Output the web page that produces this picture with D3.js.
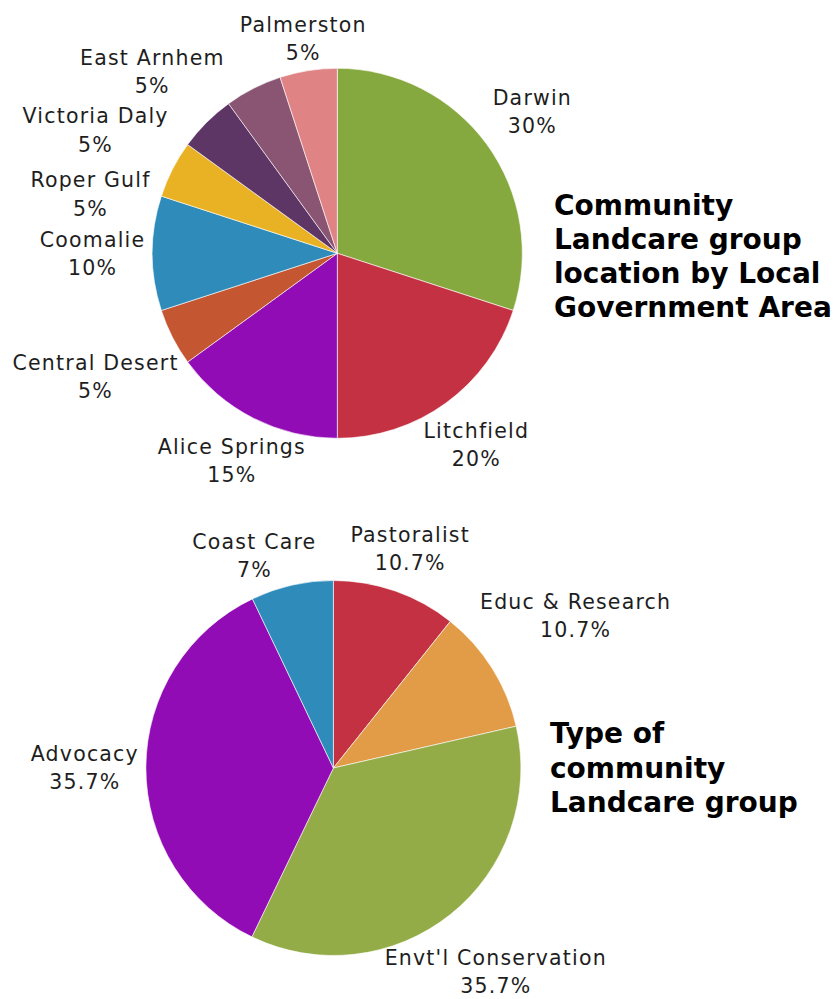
<!DOCTYPE html>
<html><head><meta charset="utf-8">
<script src="https://cdn.jsdelivr.net/npm/d3@7"></script>
<style>body{margin:0;background:#fff}svg{display:block}</style>
</head><body>
<svg id="chart" width="839" height="999"></svg>
<script>
// ---- Data ----
const lgaCategories = ["Darwin","Litchfield","Alice Springs","Central Desert","Coomalie","Roper Gulf","Victoria Daly","East Arnhem","Palmerston"];
const lgaValues = [30,20,15,5,10,5,5,5,5];
const lgaPercentLabels = ["30%","20%","15%","5%","10%","5%","5%","5%","5%"];
const lgaColors = ["#86a93f","#c43142","#920cb5","#c55632","#2e8bba","#e8b224","#5e3666","#8a5473","#e08385"];
const lgaTitle = ["Community","Landcare group","location by Local","Government Area"];

const typeCategories = ["Pastoralist","Educ & Research","Envt'l Conservation","Advocacy","Coast Care"];
const typeValues = [10.7,10.7,35.7,35.7,7.1];
const typePercentLabels = ["10.7%","10.7%","35.7%","35.7%","7%"];
const typeColors = ["#c43142","#e29c47","#93ac48","#920cb5","#2e8bba"];
const typeTitle = ["Type of","community","Landcare group"];

// ---- Label layout tweaks applied after collision resolution (degrees, px) ----
const labelNudges = {
  "Palmerston": {da:0, dr:-11},
  "East Arnhem": {da:0, dr:16},
  "Victoria Daly": {da:2, dr:0},
  "Coast Care": {da:-7.6, dr:-6},
  "Educ & Research": {da:0, dr:24},
  "Envt'l Conservation": {da:0, dr:20}
};

// ---- Drawing ----
const svg = d3.select("#chart");
const FONT = "'DejaVu Sans', sans-serif";
const LABEL_SIZE = 20.5, LINE_GAP = 28.5;

function drawPie(cfg) {
  const data = cfg.categories.map((c,i)=>({name:c, value:cfg.values[i], pct:cfg.pcts[i], color:cfg.colors[i]}));
  const pie = d3.pie().sort(null).value(d=>d.value).startAngle(0).endAngle(2*Math.PI);
  const arcs = pie(data);
  const arc = d3.arc().innerRadius(0).outerRadius(cfg.r);
  const g = svg.append("g").attr("transform",`translate(${cfg.cx},${cfg.cy})`);
  g.selectAll("path").data(arcs).join("path")
    .attr("d", arc).attr("fill", d=>d.data.color)
    .attr("stroke","#ffffff").attr("stroke-width",0.6);

  // labels
  const lg = g.append("g");
  const items = arcs.map(a=>{
    const t = lg.append("g");
    const t1 = t.append("text").text(a.data.name);
    const t2 = t.append("text").text(a.data.pct);
    t.selectAll("text").attr("font-family",FONT).attr("font-size",LABEL_SIZE)
      .attr("letter-spacing","1.2px").attr("fill","#1e1e1e").attr("text-anchor","middle");
    const w = Math.max(t1.node().getComputedTextLength(), t2.node().getComputedTextLength());
    return {a, t, t1, t2, w};
  });
  const B = 36, HB = 27, gap = cfg.gap;
  function boxAt(theta, w, dr) {
    const ux = Math.sin(theta), uy = -Math.cos(theta);
    const tx = Math.abs(ux) > 1e-6 ? (w/2)/Math.abs(ux) : Infinity;
    const ty = Math.abs(uy) > 1e-6 ? B/Math.abs(uy) : Infinity;
    const d = cfg.r + gap + Math.min(tx, ty) + (dr||0);
    return {x: ux*d, y: uy*d, hw: w/2 + 3, hh: HB, theta};
  }
  const overlap = (p,q)=> Math.abs(p.x-q.x) < p.hw+q.hw && Math.abs(p.y-q.y) < p.hh+q.hh;
  const placed = [];
  for (let k = items.length-1; k >= 0; k--) {
    const it = items[k];
    let theta = (it.a.startAngle + it.a.endAngle)/2;
    let pos = boxAt(theta, it.w, 0);
    for (let n=0; n<400 && placed.some(p=>overlap(p,pos)); n++) {
      theta -= Math.PI/360;
      pos = boxAt(theta, it.w, 0);
    }
    placed.push(pos);
    const nudge = labelNudges[it.a.data.name];
    const fin = nudge ? boxAt(theta + nudge.da*Math.PI/180, it.w, nudge.dr) : pos;
    const y1 = fin.y - 6.75;
    it.t1.attr("x", fin.x).attr("y", y1);
    it.t2.attr("x", fin.x).attr("y", y1 + LINE_GAP);
  }

  // title
  svg.append("g").selectAll("text").data(cfg.title).join("text")
    .attr("x", cfg.titleX).attr("y",(d,i)=>cfg.titleY + i*cfg.titleStep)
    .attr("font-family",FONT).attr("font-weight","bold").attr("font-size",28)
    .attr("fill","#000").text(d=>d);
}

drawPie({categories:lgaCategories, values:lgaValues, pcts:lgaPercentLabels, colors:lgaColors,
  cx:337.3, cy:253.3, r:185, gap:7, title:lgaTitle, titleX:554, titleY:215, titleStep:34});
drawPie({categories:typeCategories, values:typeValues, pcts:typePercentLabels, colors:typeColors,
  cx:333.4, cy:768, r:187.5, gap:7, title:typeTitle, titleX:550, titleY:743, titleStep:34.5});
</script>
</body></html>
